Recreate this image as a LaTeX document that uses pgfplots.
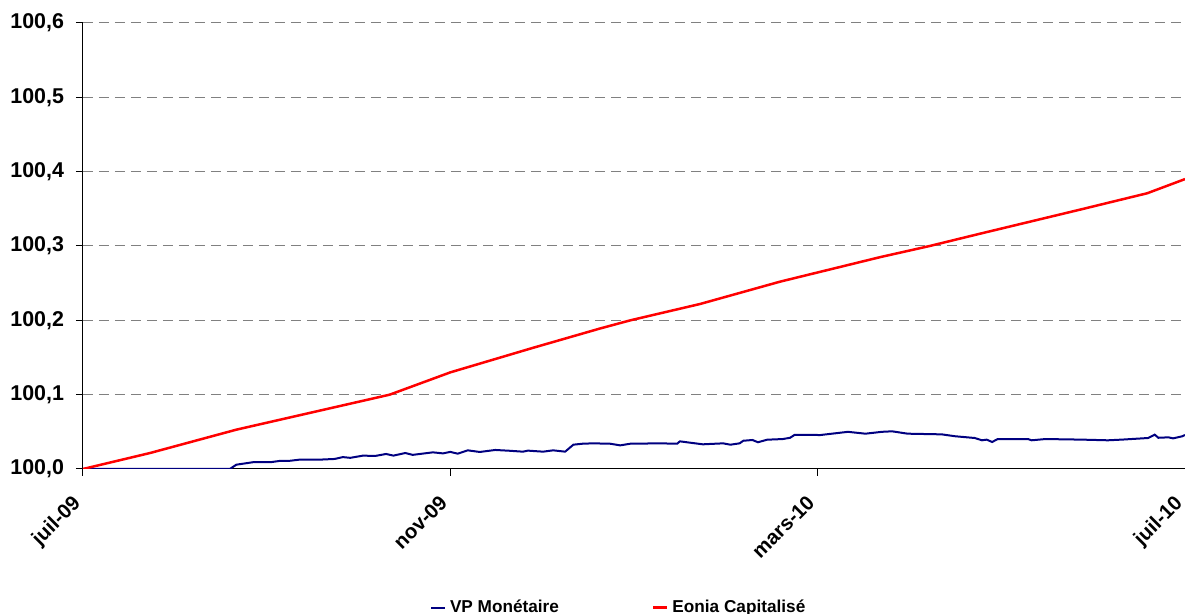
\documentclass[border=0pt]{standalone}
\usepackage{fontspec}
\setmainfont{Liberation Sans}
\usepackage{pgfplots}
\pgfplotsset{compat=1.18}

\definecolor{vpblue}{RGB}{0,0,128}
\definecolor{gridgray}{RGB}{128,128,128}

% x in months from juil-09 (0) to juil-10 (12)
\begin{document}
\begin{tikzpicture}
\path[use as bounding box] (-41.5pt,-72.5pt) rectangle (551pt,234.5pt);
\begin{axis}[
    scale only axis,
    width=551pt, height=223pt,
    xmin=0, xmax=12, ymin=100, ymax=100.6,
    axis x line*=bottom, axis y line*=left,
    axis line style={black, line width=0.5pt},
    xtick={0,4,8,12},
    xticklabels={juil-09,nov-09,mars-10,juil-10},
    ytick={100,100.1,100.2,100.3,100.4,100.5,100.6},
    tick align=outside,
    major tick length=3.5pt,
    tick style={black, line width=0.5pt},
    ymajorgrids,
    major grid style={gridgray, line width=0.5pt, dash pattern=on 5pt off 3pt},
    /pgf/number format/assume math mode=true,
    yticklabel style={font=\bfseries\fontsize{10.7}{12}\selectfont, xshift=-2.5pt,
        /pgf/number format/.cd, fixed, fixed zerofill, precision=1, use comma, 1000 sep={}},
    xticklabel style={font=\bfseries\fontsize{10.2}{12}\selectfont,
        xshift=-6pt, yshift=-4pt, rotate=45, anchor=north east},
    legend columns=2,
    legend style={at={(axis description cs:0.487,-0.311)}, anchor=center, draw=none,
        font=\bfseries\fontsize{8.6}{10}\selectfont,
        /tikz/every even column/.append style={column sep=44.5pt},
        inner sep=0pt},
    legend image code/.code={\draw[#1] (0pt,0pt) -- (7pt,0pt);},
]
\addplot[vpblue, line width=1pt] coordinates {
(0,100.0)(1.60,100.0)(1.67,100.0058)(1.85,100.0091)(2.04,100.0091)(2.15,100.011)(2.25,100.011)
(2.36,100.0126)(2.58,100.0126)(2.74,100.0135)(2.83,100.016)(2.91,100.015)(3.05,100.018)
(3.18,100.0175)(3.30,100.0202)(3.38,100.018)(3.51,100.0215)(3.59,100.019)(3.81,100.0224)
(3.92,100.021)(4.00,100.023)(4.08,100.0206)(4.19,100.0251)(4.32,100.0229)(4.49,100.0256)
(4.65,100.0245)(4.79,100.0233)(4.845,100.0247)(5.01,100.0233)(5.12,100.0251)(5.25,100.0233)
(5.34,100.0327)(5.44,100.034)(5.55,100.0345)(5.74,100.034)(5.85,100.0318)(5.96,100.034)
(6.28,100.0345)(6.47,100.034)(6.50,100.0372)(6.61,100.0354)(6.75,100.0332)(6.97,100.0345)
(7.05,100.0327)(7.15,100.0345)(7.19,100.038)(7.29,100.039)(7.35,100.036)(7.45,100.0394)
(7.62,100.0403)(7.70,100.042)(7.75,100.046)(8.03,100.0457)(8.33,100.050)(8.52,100.0475)
(8.70,100.050)(8.81,100.0507)(8.98,100.0475)(9.35,100.0466)(9.50,100.044)(9.71,100.0417)
(9.79,100.0386)(9.84,100.0395)(9.90,100.0363)(9.96,100.0403)(10.29,100.0403)(10.33,100.0386)
(10.48,100.0403)(10.88,100.0395)(11.16,100.0386)(11.31,100.0395)(11.60,100.0417)(11.67,100.0462)
(11.71,100.042)(11.82,100.0426)(11.87,100.0412)(11.97,100.044)(12.0,100.0457)
};
\addlegendentry{VP Monétaire}
\addplot[red, line width=1.25pt] coordinates {
(0,100.0)(0.73,100.0215)(1.67,100.0529)(3.34,100.1)(4.0,100.130)(4.90,100.163)(5.63,100.189)
(5.96,100.2)(6.72,100.222)(7.59,100.252)(8.68,100.285)(9.22,100.3)(9.77,100.3166)
(10.86,100.349)(11.59,100.371)(12,100.39)
};
\addlegendentry{Eonia Capitalisé}
\end{axis}
\end{tikzpicture}
\end{document}
